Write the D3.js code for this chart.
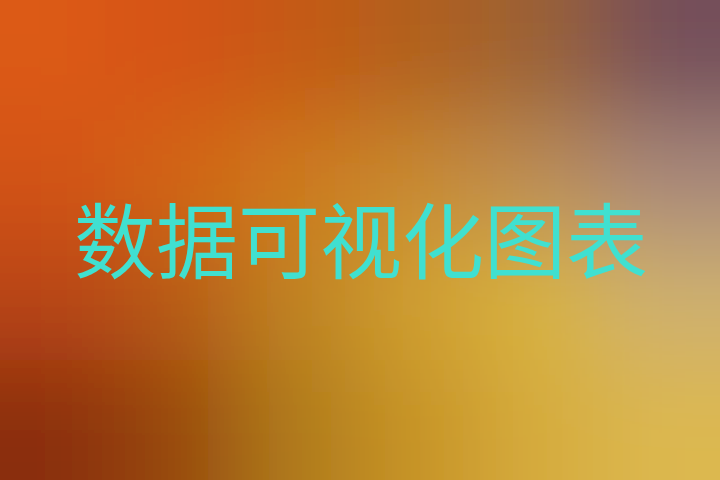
<!DOCTYPE html>
<html>
<head>
<meta charset="utf-8">
<script src="https://cdn.jsdelivr.net/npm/d3@7"></script>
<style>
  html, body { margin: 0; padding: 0; background: #c97a20; }
  svg { display: block; }
</style>
</head>
<body>
<div id="chart"></div>
<script>
// title text
var title = '数据可视化图表';

// background colour samples, one row per band, left to right
var row0 = ['#dc5a18', '#d45214', '#c45a16', '#b0601e', '#9a6236', '#74505a'];
var row1 = ['#d25216', '#d26616', '#ce7a1c', '#c88a30', '#bc8e58', '#a8887c'];
var row2 = ['#b84414', '#b85c18', '#c08420', '#d0a030', '#d8b440', '#ceb070'];
var row3 = ['#8a2e0a', '#984a10', '#b07c1a', '#c89428', '#d6ac3c', '#dcb850'];
var rows = [row0, row1, row2, row3];

var width = 720,
    height = 480,
    pad = 160;

var svg = d3.select('#chart')
    .append('svg')
    .attr('width', width)
    .attr('height', height);

var defs = svg.append('defs');
defs.append('filter')
    .attr('id', 'soft')
    .attr('x', -1).attr('y', -1)
    .attr('width', 3).attr('height', 3)
    .attr('filterUnits', 'objectBoundingBox')
    .append('feGaussianBlur')
    .attr('stdDeviation', 48);

var x = d3.scaleBand().domain(d3.range(row0.length)).range([0, width]),
    y = d3.scaleBand().domain(d3.range(rows.length)).range([0, height]);

var cells = [];
rows.forEach(function (r, ri) {
    r.forEach(function (c, ci) {
        cells.push({ row: ri, col: ci, color: c });
    });
});

// edge cells are stretched outward so the blur does not fade at the border
function cellX(d) { return d.col === 0 ? x(d.col) - pad : x(d.col); }
function cellY(d) { return d.row === 0 ? y(d.row) - pad : y(d.row); }
function cellW(d) {
    var w = x.bandwidth() + 1;
    if (d.col === 0) w += pad;
    if (d.col === row0.length - 1) w += pad;
    return w;
}
function cellH(d) {
    var h = y.bandwidth() + 1;
    if (d.row === 0) h += pad;
    if (d.row === rows.length - 1) h += pad;
    return h;
}

svg.append('g')
    .attr('filter', 'url(#soft)')
    .selectAll('rect')
    .data(cells)
    .enter()
    .append('rect')
    .attr('x', cellX)
    .attr('y', cellY)
    .attr('width', cellW)
    .attr('height', cellH)
    .attr('fill', function (d) { return d.color; });

svg.append('text')
    .attr('x', width / 2 + 1)
    .attr('y', 236)
    .attr('text-anchor', 'middle')
    .attr('dominant-baseline', 'central')
    .attr('font-family', '"Noto Sans CJK SC", "Noto Sans CJK JP", sans-serif')
    .attr('font-size', 82)
    .attr('fill', '#40e0d0')
    .text(title);
</script>
</body>
</html>
